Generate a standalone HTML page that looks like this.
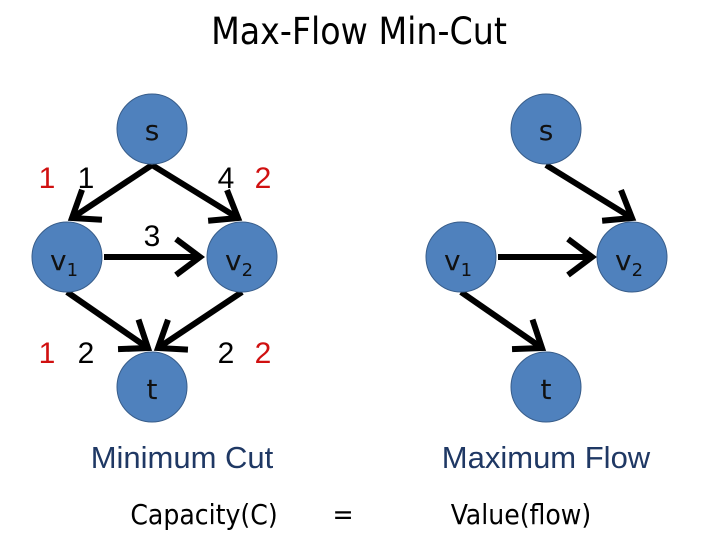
<!DOCTYPE html>
<html><head><style>
body{margin:0;width:720px;height:540px;background:#fff;overflow:hidden}
</style></head><body>
<svg width="720" height="540" xmlns="http://www.w3.org/2000/svg" font-family="Liberation Sans, sans-serif">
<defs><marker id="a" markerWidth="7" markerHeight="7" refX="4.5" refY="3.5" orient="auto" markerUnits="strokeWidth"><path d="M0.5,0.5 L4.5,3.5 L0.5,6.5" fill="none" stroke="#000" stroke-width="1"/></marker></defs>
<text x="359" y="44" font-size="37" text-anchor="middle" font-family="DejaVu Sans Condensed, Liberation Sans, sans-serif">Max-Flow Min-Cut</text>
<g stroke="#000" stroke-width="6" marker-end="url(#a)">
<line x1="152" y1="165" x2="72" y2="218"/>
<line x1="152" y1="165" x2="238" y2="218"/>
<line x1="104" y1="257" x2="200" y2="257"/>
<line x1="67" y1="292" x2="148" y2="348"/>
<line x1="242" y1="292" x2="158" y2="348"/>
<line x1="546" y1="165" x2="632" y2="218"/>
<line x1="498" y1="257" x2="592" y2="257"/>
<line x1="461" y1="292" x2="542" y2="348"/>
</g>
<g fill="#4f81bd" stroke="#385d8a" stroke-width="1">
<circle cx="152" cy="129" r="35"/><circle cx="67" cy="257" r="35"/><circle cx="242" cy="257" r="35"/><circle cx="152" cy="387" r="35"/>
<circle cx="546" cy="129" r="35"/><circle cx="461" cy="257" r="35"/><circle cx="632" cy="257" r="35"/><circle cx="546" cy="387" r="35"/>
</g>
<g font-size="28" fill="#111" text-anchor="middle" font-family="DejaVu Sans, sans-serif">
<text x="152" y="140">s</text><text x="546" y="140">s</text>
<text x="152" y="399">t</text><text x="546" y="399">t</text>
<text x="64" y="270">v<tspan font-size="18" dy="6">1</tspan></text>
<text x="239" y="270">v<tspan font-size="18" dy="6">2</tspan></text>
<text x="458" y="270">v<tspan font-size="18" dy="6">1</tspan></text>
<text x="629" y="270">v<tspan font-size="18" dy="6">2</tspan></text>
</g>
<g font-size="30" text-anchor="middle">
<text x="47" y="188" fill="#d01010">1</text><text x="86" y="188">1</text>
<text x="226" y="188">4</text><text x="263" y="188" fill="#d01010">2</text>
<text x="152" y="246">3</text>
<text x="47" y="363" fill="#d01010">1</text><text x="86" y="363">2</text>
<text x="226" y="363">2</text><text x="263" y="363" fill="#d01010">2</text>
</g>
<text x="182" y="468" font-size="31" fill="#1f3864" text-anchor="middle">Minimum Cut</text>
<text x="546" y="468" font-size="31" fill="#1f3864" text-anchor="middle">Maximum Flow</text>
<g font-size="28" text-anchor="middle" font-family="DejaVu Sans Condensed, Liberation Sans, sans-serif">
<text x="204" y="524">Capacity(C)</text>
<text x="343" y="524">=</text>
<text x="521" y="524">Value(flow)</text>
</g>
</svg>
</body></html>
